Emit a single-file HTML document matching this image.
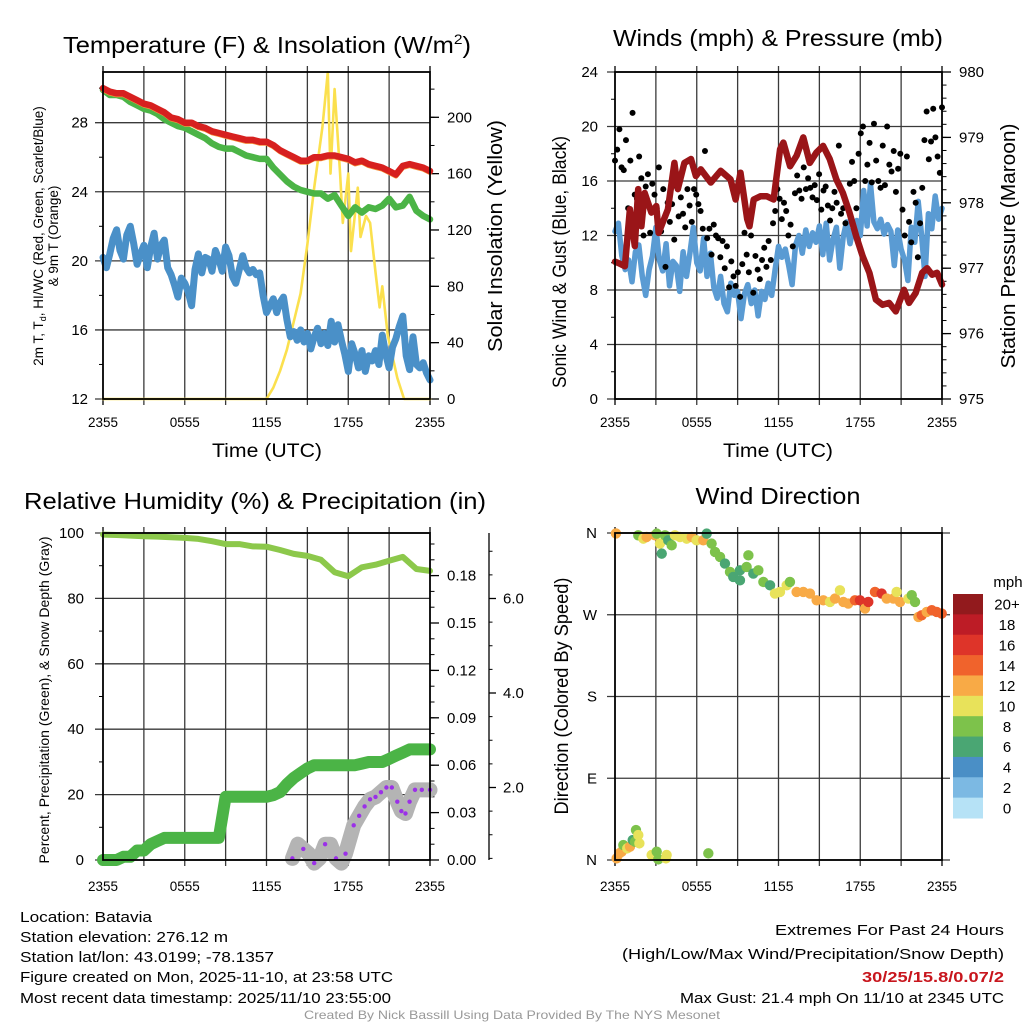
<!DOCTYPE html>
<html><head><meta charset="utf-8">
<style>
html,body{margin:0;padding:0;background:#fff;}
svg{display:block;font-family:"Liberation Sans",sans-serif;}
</style></head>
<body>
<svg id="fig" width="1024" height="1024" viewBox="0 0 1024 1024" xmlns="http://www.w3.org/2000/svg">
<rect x="0" y="0" width="1024" height="1024" fill="#fff"/>
<text x="267" y="53" font-size="23" text-anchor="middle" textLength="408" lengthAdjust="spacingAndGlyphs">Temperature (F) &amp; Insolation (W/m<tspan font-size="14" dy="-9">2</tspan><tspan dy="9">)</tspan></text>
<text x="778" y="46" font-size="23" text-anchor="middle" textLength="330" lengthAdjust="spacingAndGlyphs">Winds (mph) &amp; Pressure (mb)</text>
<text x="255" y="509" font-size="23" text-anchor="middle" textLength="462" lengthAdjust="spacingAndGlyphs">Relative Humidity (%) &amp; Precipitation (in)</text>
<text x="778" y="504" font-size="23" text-anchor="middle" textLength="165" lengthAdjust="spacingAndGlyphs">Wind Direction</text>
<g id="g1"></g>
<g id="g2"></g>
<g id="g3"></g>
<g id="g4"></g>
<g font-size="15">
<text x="20" y="922" textLength="132" lengthAdjust="spacingAndGlyphs">Location: Batavia</text>
<text x="20" y="942" textLength="208" lengthAdjust="spacingAndGlyphs">Station elevation: 276.12 m</text>
<text x="20" y="962" textLength="254" lengthAdjust="spacingAndGlyphs">Station lat/lon: 43.0199; -78.1357</text>
<text x="20" y="982" textLength="373" lengthAdjust="spacingAndGlyphs">Figure created on Mon, 2025-11-10, at 23:58 UTC</text>
<text x="20" y="1003" textLength="371" lengthAdjust="spacingAndGlyphs">Most recent data timestamp: 2025/11/10 23:55:00</text>
</g>
<g font-size="15" text-anchor="end">
<text x="1004" y="935" textLength="229" lengthAdjust="spacingAndGlyphs">Extremes For Past 24 Hours</text>
<text x="1004" y="959" textLength="382" lengthAdjust="spacingAndGlyphs">(High/Low/Max Wind/Precipitation/Snow Depth)</text>
<text x="1004" y="982" font-weight="bold" fill="#c8161d" textLength="142" lengthAdjust="spacingAndGlyphs">30/25/15.8/0.07/2</text>
<text x="1004" y="1003" textLength="324" lengthAdjust="spacingAndGlyphs">Max Gust: 21.4 mph On 11/10 at 2345 UTC</text>
</g>
<text x="512" y="1019" font-size="12" fill="#999" text-anchor="middle" textLength="416" lengthAdjust="spacingAndGlyphs">Created By Nick Bassill Using Data Provided By The NYS Mesonet</text>
</svg>
<script>
// ---------- data ----------
const xTickLabels = ["2355","0555","1155","1755","2355"];
const xTickHours = [0,6,12,18,24];
const tempHalfHour = [30.0,29.8,29.7,29.7,29.5,29.3,29.1,29.0,28.8,28.6,28.3,28.2,28.0,28.0,27.8,27.7,27.5,27.4,27.3,27.2,27.1,27.0,27.0,26.9,26.9,26.7,26.4,26.2,26.0,25.8,25.8,26.0,26.0,26.1,26.1,26.0,25.9,25.7,25.8,25.6,25.5,25.4,25.2,25.0,25.5,25.6,25.5,25.4,25.2];
const hiwcHalfHour = [29.9,29.6,29.6,29.5,29.2,29.0,28.8,28.7,28.5,28.2,28.0,27.8,27.7,27.5,27.3,27.1,26.8,26.6,26.5,26.5,26.3,26.1,26.0,25.9,25.9,25.4,25.0,24.6,24.3,24.1,24.0,23.9,23.9,23.6,23.8,23.2,22.6,23.1,22.8,23.1,23.0,23.2,23.6,23.1,23.2,23.7,22.9,22.6,22.4];
const dewQuarter = [20.2,19.6,20.4,21.3,21.8,20.6,20.1,21.5,22.0,21.0,19.8,20.4,20.9,19.6,20.8,21.6,20.1,20.9,21.2,19.6,19.2,18.6,17.9,19.0,18.7,18.2,17.4,19.5,20.4,19.3,20.2,20.1,19.4,20.6,20.1,19.4,20.8,20.3,19.1,18.7,19.5,20.3,19.6,19.3,19.5,19.2,19.3,18.0,17.0,17.4,17.8,17.0,17.6,17.9,16.6,15.6,15.9,15.4,16.0,15.3,15.8,14.9,15.6,16.1,15.2,15.8,15.1,16.5,15.3,16.3,15.4,14.6,13.6,15.2,14.6,13.8,14.8,13.6,14.5,14.2,14.8,14.0,15.7,14.6,13.8,15.0,15.5,16.2,16.8,14.5,13.7,15.6,14.0,13.8,14.1,13.5,13.1];
const solarHours = [0,12.0,12.5,13.0,13.5,14.0,14.5,15.0,15.5,16.1,16.5,16.7,17.0,17.4,17.6,18.0,18.2,18.7,18.9,19.3,19.6,20.0,20.3,20.5,20.9,21.3,21.6,22.1,24];
const solarVals = [0,0,8,20,35,55,75,110,150,193,232,160,220,160,125,160,105,150,115,130,125,90,65,80,45,28,15,0,0];
const windQuarter = [12.3,12.9,10.5,9.5,10.2,8.6,10.8,11.3,9.0,7.6,9.5,10.5,12.6,10.2,9.4,11.4,8.3,10.1,9.8,7.9,10.8,9.0,10.7,12.6,10.0,9.4,11.8,9.0,10.7,8.2,7.4,9.0,7.0,6.4,8.5,7.6,7.9,5.9,7.7,8.4,7.0,8.0,6.1,7.9,7.3,8.5,7.6,9.5,11.2,10.4,11.0,9.8,8.4,11.3,12.0,10.7,12.4,11.2,12.2,11.5,12.7,10.6,12.9,10.2,11.7,12.6,9.6,11.9,13.0,11.4,12.6,13.1,12.0,15.3,12.7,15.8,13.0,12.5,13.2,12.1,12.8,12.3,9.8,12.4,11.0,10.2,8.7,12.6,11.5,14.5,12.0,9.0,13.6,12.5,14.9,13.2,14.0];
const gustVals = [17.5,18.3,19.8,17.0,16.8,19.0,14.0,17.5,21.0,15.0,14.7,17.8,16.2,12.0,15.6,16.5,12.2,15.8,15.0,14.0,17.0,12.3,15.4,9.7,14.4,13.0,14.3,11.7,15.6,13.4,14.8,13.6,12.6,15.4,14.2,13.0,15.4,15.0,14.3,13.8,12.5,18.2,11.8,12.5,10.6,12.8,12.0,11.8,10.4,11.6,9.6,11.2,8.2,10.1,9.0,8.3,9.3,7.5,9.9,12.2,10.6,9.3,12.0,7.8,10.5,9.5,8.8,10.2,11.1,9.7,11.6,10.2,12.9,13.8,15.4,14.7,13.2,14.4,13.8,12.0,12.8,11.2,15.1,16.4,15.3,14.7,17.0,15.4,16.2,15.5,14.8,15.7,14.6,16.5,13.9,15.3,15.6,14.2,13.1,14.0,15.2,14.4,18.6,13.6,14.0,12.9,14.0,15.8,17.4,16.0,14.0,18.0,19.5,20.0,16.0,17.2,18.8,15.9,20.2,17.5,16.0,15.5,18.6,15.7,20.0,17.2,16.7,18.2,15.2,16.9,18.0,13.9,12.0,17.8,13.0,11.5,15.2,14.4,10.4,12.9,15.5,19.0,21.1,17.6,18.9,21.3,19.2,17.8,16.6,21.4];
const presHours = [0,0.24,0.73,1.09,1.45,1.70,1.94,2.18,2.67,3.03,3.20,3.88,4.36,4.61,5.09,5.58,5.94,6.30,7.03,7.76,8.48,8.85,9.21,9.70,9.87,10.18,10.67,11.15,11.64,12.12,12.36,12.85,13.33,13.82,14.30,14.79,15.27,15.76,16.24,16.73,17.21,17.70,18.18,18.67,19.15,19.64,20.12,20.61,21.21,21.58,22.06,22.55,22.91,23.27,23.64,24.0];
const presVals = [977.1,977.08,977.03,977.90,977.34,978.21,977.64,978.15,977.85,977.95,977.54,977.90,978.61,978.21,978.61,978.67,978.41,978.51,978.31,978.49,978.36,978.05,978.46,977.75,977.64,978.05,978.10,978.10,978.05,978.82,978.92,978.56,978.72,979.00,978.61,978.77,978.87,978.67,978.36,978.15,977.85,977.49,977.18,976.93,976.52,976.44,976.47,976.34,976.67,976.47,976.62,976.93,977.00,976.90,976.93,976.75];
const rhHourly = [99.5,99.4,99.2,99.0,98.9,98.7,98.5,98.2,97.5,96.6,96.6,95.9,95.8,94.8,93.6,93.0,91.8,88.0,86.8,89.5,90.3,91.5,92.7,89.0,88.4];
const precipHalfHour = [0,0,0,0.002,0.002,0.006,0.006,0.010,0.012,0.014,0.014,0.014,0.014,0.014,0.014,0.014,0.014,0.014,0.040,0.040,0.040,0.040,0.040,0.040,0.040,0.041,0.043,0.048,0.052,0.055,0.058,0.060,0.060,0.060,0.060,0.060,0.060,0.060,0.061,0.062,0.062,0.062,0.064,0.066,0.068,0.070,0.070,0.070,0.070];
const snowHours = [13.9,14.3,14.7,15.1,15.5,15.9,16.3,16.7,17.1,17.5,17.8,18.1,18.4,18.8,19.2,19.6,20.0,20.4,20.8,21.2,21.6,21.9,22.2,22.5,22.9,23.4,24.0];
const snowVals = [0.5,0.8,0.7,0.6,0.4,0.5,0.8,0.8,0.5,0.4,0.6,0.9,1.2,1.4,1.6,1.75,1.8,1.9,2.0,2.0,1.7,1.5,1.45,1.7,1.95,1.95,1.95];
const dirHours = [0.07,0.12,0.32,0.49,0.61,0.90,1.10,1.30,1.47,1.54,1.71,1.79,2.69,3.06,3.18,3.79,3.74,6.85,1.71,2.08,2.32,2.94,3.06,3.30,3.43,3.67,3.91,4.16,4.40,4.77,5.26,5.63,5.99,6.48,6.73,7.09,7.34,7.71,8.07,8.44,8.68,9.17,9.17,9.66,9.79,10.15,10.52,10.89,11.38,11.74,12.11,12.60,12.84,13.33,13.82,14.31,14.80,15.29,15.78,16.15,16.51,16.76,17.12,17.61,17.98,18.35,18.59,19.08,19.57,19.94,20.43,20.67,20.92,21.53,21.78,22.02,22.27,22.51,22.88,23.25,23.61,23.98];
const dirVals = [359.5,1.8,7.3,9.2,16.5,12.8,14.7,22.0,20.2,33.0,27.5,18.3,5.5,9.2,0.7,5.5,1.8,7.3,357.4,353.8,355.6,357.4,359.3,348.3,337.3,357.4,351.9,346.4,357.4,355.6,353.8,355.6,351.9,351.9,359.3,348.3,339.1,333.6,326.3,317.1,311.6,307.9,318.9,322.6,335.4,315.3,318.9,306.1,302.4,293.3,295.1,302.4,306.1,295.1,295.1,293.3,285.9,285.9,284.1,287.8,296.9,284.1,282.3,285.9,285.9,276.8,284.1,295.1,293.3,287.8,287.8,295.1,284.1,287.8,291.5,284.1,267.6,269.4,273.1,275.0,273.1,271.3];
const dirSpeeds = [12,12,13,12,8,10,13,7,8,8,10,10,10,8,8,10,10,8,8,10,12,12,8,10,7,8,6,8,10,10,10,12,10,12,6,8,8,8,6,8,6,7,6,8,8,6,8,8,6,10,10,10,8,12,12,12,12,12,10,12,10,12,12,14,16,12,16,14,16,12,12,10,12,10,8,8,12,14,12,14,14,14];
const speedBinLabels = ["0","2","4","6","8","10","12","14","16","18","20+"];
const speedBinColors = ["#b6e2f6","#7cb9e3","#4a8fc6","#4aa673","#7dc24b","#e8e25a","#f8aa46","#f0632c","#de3429","#bd1c26","#921a1d"];

// ---------- helpers ----------
const NS = "http://www.w3.org/2000/svg";
function mk(parent, tag, attrs){
  const e = document.createElementNS(NS, tag);
  for (const k in attrs) e.setAttribute(k, attrs[k]);
  parent.appendChild(e);
  return e;
}
function txt(parent, x, y, s, size, anchor, extra){
  const t = mk(parent, "text", Object.assign({x:x, y:y, "font-size":size, "text-anchor":anchor||"start"}, extra||{}));
  t.textContent = s;
  return t;
}
function path(parent, pts, color, width){
  let d = "";
  pts.forEach((p,i)=>{ d += (i?"L":"M") + p[0].toFixed(1) + "," + p[1].toFixed(1); });
  return mk(parent, "path", {d:d, fill:"none", stroke:color, "stroke-width":width, "stroke-linejoin":"round", "stroke-linecap":"round"});
}
function frame(g, X0, X1, Y0, Y1, xLabY){
  const xs = h => X0 + h/24*(X1-X0);
  for (let h=3; h<24; h+=3){
    const gl = mk(g, "line", {x1:xs(h), x2:xs(h), y1:Y0-6, y2:Y1+6, stroke:"#3a3a3a", "stroke-width":1.3});
    
    
  }
  [0,24].forEach(h=>{
    mk(g, "line", {x1:xs(h), x2:xs(h), y1:Y0-6, y2:Y0, stroke:"#000", "stroke-width":1.3});
    mk(g, "line", {x1:xs(h), x2:xs(h), y1:Y1, y2:Y1+6, stroke:"#000", "stroke-width":1.3});
  });
  xTickHours.forEach((h,i)=>{
    const t = txt(g, xs(h), xLabY, xTickLabels[i], 14, "middle", {textLength:30, lengthAdjust:"spacingAndGlyphs"});
    
    
  });
  return xs;
}
function leftAxis(g, X0, X1, ys, majors, minors, labels, lblX){
  minors.forEach(v=>mk(g,"line",{x1:X0-4,x2:X0,y1:ys(v),y2:ys(v),stroke:"#000","stroke-width":1}));
  majors.forEach((v,i)=>{
    const gl = mk(g,"line",{x1:X0-8,x2:X1,y1:ys(v),y2:ys(v),stroke:"#3a3a3a","stroke-width":1.3});
    
    
    const t = txt(g, lblX, ys(v)+5, labels[i], 15, "end");
    
    
  });
}
function rightAxis(g, X, ys, majors, minors, labels, lblX, len){
  minors.forEach(v=>mk(g,"line",{x1:X,x2:X+len/2,y1:ys(v),y2:ys(v),stroke:"#000","stroke-width":1}));
  majors.forEach((v,i)=>{
    mk(g,"line",{x1:X,x2:X+len,y1:ys(v),y2:ys(v),stroke:"#000","stroke-width":1.3});
    if (labels[i]!==null){
      const t = txt(g, lblX, ys(v)+5, labels[i], 15, "start");
      
      
    }
  });
}
function border(g, X0, X1, Y0, Y1){
  const r = mk(g,"rect",{x:X0,y:Y0,width:X1-X0,height:Y1-Y0,fill:"none",stroke:"#000","stroke-width":1.8});
  
  
}
function range(a,b,s){ const r=[]; for(let v=a; v<=b+1e-9; v+=s) r.push(+v.toFixed(4)); return r; }

// ---------- panel 1 ----------
(function(){
  const g = document.getElementById("g1");
  const X0=103, X1=430, Y0=72, Y1=399;
  const xs = frame(g, X0, X1, Y0, Y1, 427);
  const ys = v => Y1 - (v-12)*17.27;
  const yr = v => Y1 - v*1.4085;
  leftAxis(g, X0, X1, ys, [12,16,20,24,28], range(14,30,4), ["12","16","20","24","28"], 88);
  rightAxis(g, X1, yr, [0,40,80,120,160,200], range(20,220,20), ["0","40","80","120","160","200"], 447, 9);
  const sol = path(g, solarHours.map((h,i)=>[xs(h), yr(solarVals[i])]), "#fbe04e", 2.6);
  
  
  const dew = path(g, dewQuarter.map((v,i)=>[xs(i*0.25), ys(v)]), "#4a90c8", 7);
  
  
  const hw = path(g, hiwcHalfHour.map((v,i)=>[xs(i*0.5), ys(v)]), "#4bb446", 6.5);
  
  
  const or = path(g, tempHalfHour.map((v,i)=>[xs(i*0.5), ys(v)+1.5]), "#f7923a", 5);
  
  
  const tl = path(g, tempHalfHour.map((v,i)=>[xs(i*0.5), ys(v)]), "#d7201f", 6.5);
  
  
  border(g, X0, X1, Y0, Y1);
  const a = mk(g,"text",{x:0,y:0,"font-size":13.5,"text-anchor":"middle",transform:"translate(43,236) rotate(-90)"});
  
  
  a.innerHTML = '2m T, T<tspan font-size="9" dy="3">d</tspan><tspan dy="-3">, HI/WC (Red, Green, Scarlet/Blue)</tspan>';
  const a2 = txt(g, 0, 0, "& 9m T (Orange)", 13.5, "middle", {transform:"translate(58,236) rotate(-90)"});
  
  
  const r = txt(g, 0, 0, "Solar Insolation (Yellow)", 20, "middle", {transform:"translate(502,236) rotate(-90)", textLength:232, lengthAdjust:"spacingAndGlyphs"});
  
  
  const xt = txt(g, 267, 457, "Time (UTC)", 19, "middle", {textLength:110, lengthAdjust:"spacingAndGlyphs"});
  
  
})();

// ---------- panel 2 ----------
(function(){
  const g = document.getElementById("g2");
  const X0=615, X1=942, Y0=72, Y1=399;
  const xs = frame(g, X0, X1, Y0, Y1, 427);
  const ys = v => Y1 - v*(327/24);
  const yp = p => Y1 - (p-975)*(327/5);
  leftAxis(g, X0, X1, ys, [0,4,8,12,16,20,24], range(2,22,4), ["0","4","8","12","16","20","24"], 598);
  rightAxis(g, X1, yp, [975,976,977,978,979,980], range(975.2,979.8,0.2), ["975","976","977","978","979","980"], 959, 9);
  const wl = path(g, windQuarter.map((v,i)=>[xs(i*0.25), ys(v)]), "#5a9bd3", 5.5);
  
  
  const n = gustVals.length;
  gustVals.forEach((v,i)=>{
    const c = mk(g,"circle",{cx:xs(i*24/(n-1)), cy:ys(v), r:3, fill:"#000"});
    
    
  });
  const pl = path(g, presHours.map((h,i)=>[xs(h), yp(presVals[i])]), "#9a1518", 6.5);
  
  
  border(g, X0, X1, Y0, Y1);
  const a = txt(g, 0, 0, "Sonic Wind & Gust (Blue, Black)", 19, "middle", {transform:"translate(566,262) rotate(-90)", textLength:252, lengthAdjust:"spacingAndGlyphs"});
  
  
  const r = txt(g, 0, 0, "Station Pressure (Maroon)", 20, "middle", {transform:"translate(1015,246) rotate(-90)", textLength:245, lengthAdjust:"spacingAndGlyphs"});
  
  
  const xt = txt(g, 778, 457, "Time (UTC)", 19, "middle", {textLength:110, lengthAdjust:"spacingAndGlyphs"});
  
  
})();

// ---------- panel 3 ----------
(function(){
  const g = document.getElementById("g3");
  const X0=103, X1=430, Y0=533, Y1=860;
  const xs = frame(g, X0, X1, Y0, Y1, 891);
  const ys = v => Y1 - v*3.27;
  const yi = v => Y1 - v*(47.4/0.03);
  const yd = v => 882 - v*47.25;
  leftAxis(g, X0, X1, ys, [0,20,40,60,80,100], range(10,90,20), ["0","20","40","60","80","100"], 84);
  rightAxis(g, X1, yi, [0,0.03,0.06,0.09,0.12,0.15,0.18], range(0.01,0.20,0.01), ["0.00","0.03","0.06","0.09","0.12","0.15","0.18"], 447, 9);
  mk(g,"line",{x1:489,x2:489,y1:Y0,y2:Y1,stroke:"#000","stroke-width":1.3});
  rightAxis(g, 489, yd, [2,4,6], range(0.5,7.0,0.5), ["2.0","4.0","6.0"], 503, 7);
  const rh = path(g, rhHourly.map((v,i)=>[xs(i), ys(v)]), "#8cc84b", 6);
  
  
  const pr = path(g, precipHalfHour.map((v,i)=>[xs(i*0.5), yi(v)]), "#4bb446", 12);
  
  
  const sn = path(g, snowHours.map((h,i)=>[xs(h), yd(snowVals[i])]), "#b4b4b4", 15);
  
  
  snowHours.forEach((h,i)=>{
    if (i%2===0 || snowVals[i]>1){
      const c = mk(g,"circle",{cx:xs(h), cy:yd(snowVals[i]), r:2.2, fill:"#9b30e8"});
      
      
    }
  });
  border(g, X0, X1, Y0, Y1);
  const a = txt(g, 0, 0, "Percent, Precipitation (Green), & Snow Depth (Gray)", 14, "middle", {transform:"translate(49,700) rotate(-90)", textLength:327, lengthAdjust:"spacingAndGlyphs"});
  
  
})();

// ---------- panel 4 ----------
(function(){
  const g = document.getElementById("g4");
  const X0=615, X1=942, Y0=533, Y1=860;
  const xs = frame(g, X0, X1, Y0, Y1, 891);
  const yd = d => Y1 - d/360*(Y1-Y0);
  leftAxis(g, X0, X1+8, yd, [0,90,180,270,360], [], ["N","E","S","W","N"], 597);
  dirHours.forEach((h,i)=>{
    const bin = Math.min(10, Math.floor(dirSpeeds[i]/2));
    const c = mk(g,"circle",{cx:xs(h), cy:yd(dirVals[i]), r:5.2, fill:speedBinColors[bin]});
    
    
  });
  border(g, X0, X1, Y0, Y1);
  const a = txt(g, 0, 0, "Direction (Colored By Speed)", 19, "middle", {transform:"translate(568,696) rotate(-90)", textLength:237, lengthAdjust:"spacingAndGlyphs"});
  
  
  const cb = mk(g, "g", {});
  
  
  const top=594, h=(818-594)/11;
  for (let k=0;k<11;k++){
    const idx = 10-k;
    const r = mk(cb,"rect",{x:953,y:top+k*h,width:30,height:h+0.5,fill:speedBinColors[idx]});
    
    
    const t = txt(cb, 1007, top+k*h+h/2+5.5, speedBinLabels[idx], 15, "middle");
    
    
  }
  const u = txt(cb, 1008, 587, "mph", 15, "middle");
  
  
})();
</script>
</body></html>
